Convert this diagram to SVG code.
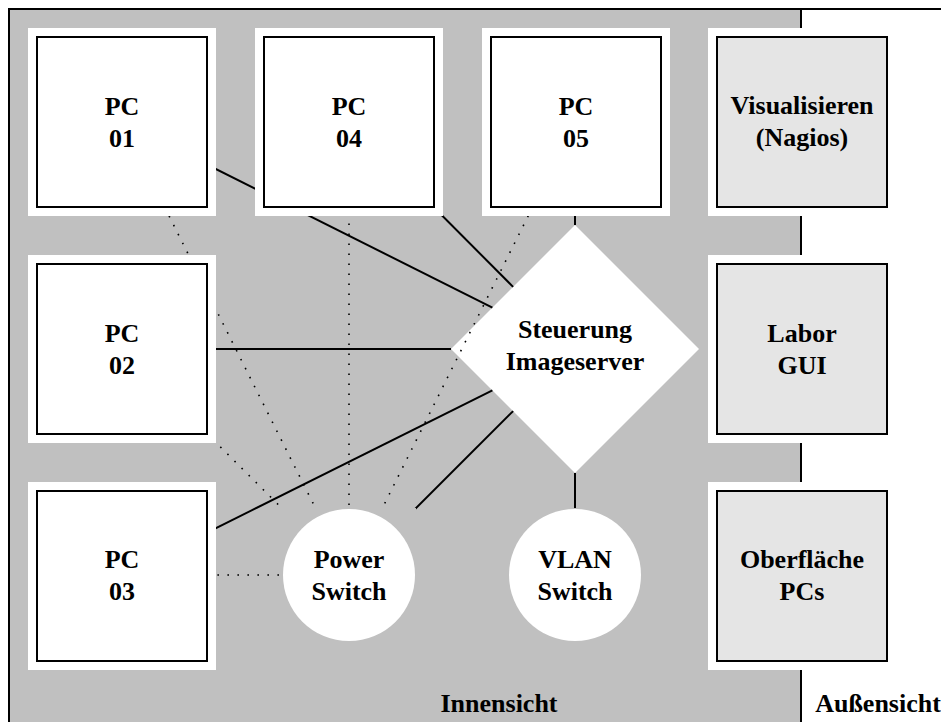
<svg xmlns="http://www.w3.org/2000/svg" width="941" height="722" viewBox="0 0 941 722">
<style>
.t{font-family:"Liberation Serif","Times New Roman",serif;font-weight:bold;font-size:26px;text-anchor:middle;fill:#000}
.pad{fill:#fff}
.box{fill:#fff;stroke:#000;stroke-width:2}
.ext{fill:#e5e5e5;stroke:#000;stroke-width:2}
.sol{stroke:#000;stroke-width:2;fill:none}
.dot{stroke:#000;stroke-width:1.6;stroke-dasharray:1.6 8.4;fill:none}
.gsq{fill:#c0c0c0}
</style>
<rect x="0" y="0" width="941" height="722" fill="#fff"/>
<rect x="9" y="9" width="792" height="720" fill="#c0c0c0"/>
<path d="M9 730 V9 H941 M801 9 V730" stroke="#000" stroke-width="2" fill="none"/>
<g id="steuerung">
<polygon points="575,225 699,349 575,473 451,349" fill="#fff"/>
<text class="t" x="575" y="338">Steuerung</text>
<text class="t" x="575" y="370">Imageserver</text>
</g>
<g id="connectors">
<line class="sol" x1="122" y1="122" x2="492.4" y2="307.6"/>
<line class="sol" x1="349" y1="122" x2="513.1" y2="286.9"/>
<line class="sol" x1="575" y1="122" x2="575" y2="225"/>
<line class="sol" x1="122" y1="349" x2="451" y2="349"/>
<line class="sol" x1="122" y1="575" x2="492.4" y2="390.4"/>
<line class="sol" x1="349" y1="575" x2="513.1" y2="411.1"/>
<line class="sol" x1="575" y1="575" x2="575" y2="473"/>
<line class="dot" x1="349" y1="575" x2="122" y2="122"/>
<line class="dot" x1="349" y1="575" x2="122" y2="349"/>
<line class="dot" x1="349" y1="575" x2="122" y2="575"/>
<line class="dot" x1="349" y1="575" x2="349" y2="122"/>
<line class="dot" x1="349" y1="575" x2="575" y2="122"/>
</g>
<g id="pc01"><rect class="pad" x="28" y="28" width="188" height="188"/><rect class="box" x="37" y="37" width="170" height="170"/><text class="t" x="122" y="115">PC</text><text class="t" x="122" y="147">01</text></g>
<g id="pc04"><rect class="pad" x="255" y="28" width="188" height="188"/><rect class="box" x="264" y="37" width="170" height="170"/><text class="t" x="349" y="115">PC</text><text class="t" x="349" y="147">04</text></g>
<g id="pc05"><rect class="pad" x="482" y="28" width="188" height="188"/><rect class="box" x="491" y="37" width="170" height="170"/><text class="t" x="576" y="115">PC</text><text class="t" x="576" y="147">05</text></g>
<g id="pc02"><rect class="pad" x="28" y="255" width="188" height="188"/><rect class="box" x="37" y="264" width="170" height="170"/><text class="t" x="122" y="342">PC</text><text class="t" x="122" y="374">02</text></g>
<g id="pc03"><rect class="pad" x="28" y="482" width="188" height="188"/><rect class="box" x="37" y="491" width="170" height="170"/><text class="t" x="122" y="568">PC</text><text class="t" x="122" y="600">03</text></g>
<g id="powerswitch"><rect class="gsq" x="282" y="508" width="134" height="134"/><circle cx="349" cy="575" r="66" fill="#fff"/><text class="t" x="349" y="568">Power</text><text class="t" x="349" y="600">Switch</text></g>
<g id="vlanswitch"><rect class="gsq" x="508" y="508" width="134" height="134"/><circle cx="575" cy="575" r="66" fill="#fff"/><text class="t" x="575" y="568">VLAN</text><text class="t" x="575" y="600">Switch</text></g>
<g id="visualisieren"><rect class="pad" x="708" y="28" width="188" height="188"/><rect class="ext" x="717" y="37" width="170" height="170"/><text class="t" x="802" y="114">Visualisieren</text><text class="t" x="802" y="146">(Nagios)</text></g>
<g id="laborgui"><rect class="pad" x="708" y="255" width="188" height="188"/><rect class="ext" x="717" y="264" width="170" height="170"/><text class="t" x="802" y="342">Labor</text><text class="t" x="802" y="374">GUI</text></g>
<g id="oberflaeche"><rect class="pad" x="708" y="482" width="188" height="188"/><rect class="ext" x="717" y="491" width="170" height="170"/><text class="t" x="802" y="568">Oberfläche</text><text class="t" x="802" y="600">PCs</text></g>
<text class="t" x="499" y="712">Innensicht</text>
<text class="t" x="878" y="712">Außensicht</text>
</svg>
